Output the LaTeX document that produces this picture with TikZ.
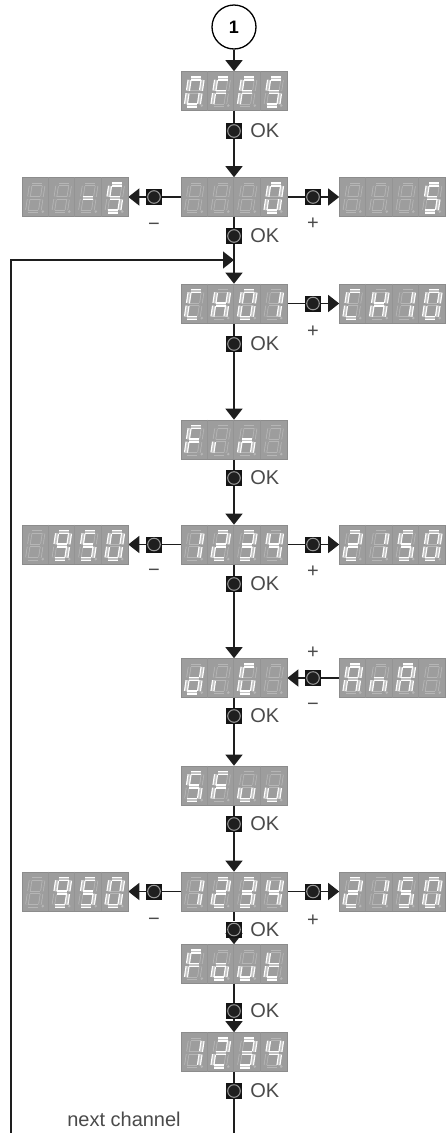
\documentclass[tikz,border=0pt]{standalone}
\usepackage{fontspec}
\setmainfont{Liberation Sans}
\usetikzlibrary{arrows.meta,backgrounds}

\definecolor{dispgray}{HTML}{9D9D9D}
\definecolor{segdim}{HTML}{B6B6B6}
\definecolor{linegray}{HTML}{1E1E1E}
\definecolor{textgray}{HTML}{4A4A4A}

\tikzset{
  disp/.style={rectangle, fill=dispgray, draw=black!45, line width=0.6pt,
    minimum width=106pt, minimum height=39pt, inner sep=0pt},
  cellsep/.style={draw=black!42, line width=0.8pt},
  btn/.style={rectangle, fill=black!92, minimum size=16pt, inner sep=0pt,
    path picture={\draw[black!40, fill=black!88, line width=1pt]
      (path picture bounding box.center) circle (6.3pt);}},
  oklbl/.style={inner sep=0pt, text=textgray, font=\fontsize{20}{20}\selectfont},
  okbtn/.style={btn, label={[oklbl, label distance=8pt]right:OK}},
  pmlbl/.style={oklbl, text height=0.64em, text depth=0pt},
  segoff/.style={draw=segdim, line width=0.8pt, double=dispgray, double distance=1.8pt},
  segon/.style={draw=white, line width=1.2pt, double=dispgray!60!white, double distance=1.7pt},
  wire/.style={draw=linegray, line width=1.3pt},
  arr/.style={wire, -{Triangle[width=17pt,length=11pt]}},
}

% one slanted seven-segment digit, #2 = lit segments
\newcommand\celldigit[2]{%
  \begin{scope}[shift={#1}, yshift=-1pt, xslant=0.15]
    \path (-5,-13.5) coordinate (a1) (5,-13.5) coordinate (a2)
          (6.5,-12) coordinate (b1) (6.5,-1.4) coordinate (b2)
          (6.5,1.4) coordinate (c1) (6.5,12) coordinate (c2)
          (-5,13.5) coordinate (d1) (5,13.5) coordinate (d2)
          (-6.5,1.4) coordinate (e1) (-6.5,12) coordinate (e2)
          (-6.5,-12) coordinate (f1) (-6.5,-1.4) coordinate (f2)
          (-5,0) coordinate (g1) (5,0) coordinate (g2);
    \foreach \s in {a,b,c,d,e,f,g} \draw[segoff] (\s1) -- (\s2);
    \fill[segdim] (9.6,13.6) circle (1.4pt);
    \def\litsegs{#2}%
    \ifx\litsegs\empty\else\foreach \s in {#2} \draw[segon] (\s1) -- (\s2);\fi
  \end{scope}}

% four digits into a display node
\newcommand\dispdigits[5]{%
  \foreach \i in {1,2,3}
    \draw[cellsep] ([xshift=26.5pt*\i]#1.north west) -- ([xshift=26.5pt*\i]#1.south west);
  \celldigit{([xshift=-39.75pt]#1.center)}{#2}
  \celldigit{([xshift=-13.25pt]#1.center)}{#3}
  \celldigit{([xshift=13.25pt]#1.center)}{#4}
  \celldigit{([xshift=39.75pt]#1.center)}{#5}}

\begin{document}
\begin{tikzpicture}[x=1pt, y=-1pt]
  \useasboundingbox (0,0) rectangle (446,1133);

  \node[circle, draw, line width=1.3pt, minimum size=44pt, font=\fontsize{18}{18}\selectfont\bfseries] (start) at (234,27) {1};
  \node[disp] (offs) [below of=start, node distance=64pt] {};
  \node[okbtn] (okA) [below of=offs, node distance=40pt] {};
  \node[disp] (zero) [below of=okA, node distance=66pt] {};
  \node[disp] (zeroL) [left of=zero, node distance=159pt] {};
  \node[disp] (zeroR) [right of=zero, node distance=158.5pt] {};
  \node[btn] (mA) [left of=zero, node distance=80pt] {};
  \node[btn] (pA) [right of=zero, node distance=79pt] {};
  \node[pmlbl] (mAl) [below of=mA, node distance=30pt] {−};
  \node[pmlbl] (pAl) [below of=pA, node distance=29pt] {+};
  \node[okbtn] (okB) [below of=zero, node distance=39pt] {};
  \node[coordinate] (join) [below of=okB, node distance=24pt] {};
  \node[disp] (ch) [below of=okB, node distance=67.5pt] {};
  \node[disp] (chR) [right of=ch, node distance=158.5pt] {};
  \node[btn] (pB) [right of=ch, node distance=79pt] {};
  \node[pmlbl] (pBl) [below of=pB, node distance=31pt] {+};
  \node[okbtn] (okC) [below of=ch, node distance=40.5pt] {};
  \node[disp] (fin) [below of=okC, node distance=95.5pt] {};
  \node[okbtn] (okD) [below of=fin, node distance=38.5pt] {};
  \node[disp] (val) [below of=okD, node distance=66.5pt] {};
  \node[disp] (valL) [left of=val, node distance=159pt] {};
  \node[disp] (valR) [right of=val, node distance=158.5pt] {};
  \node[btn] (mC) [left of=val, node distance=80pt] {};
  \node[btn] (pC) [right of=val, node distance=79pt] {};
  \node[pmlbl] (mCl) [below of=mC, node distance=29pt] {−};
  \node[pmlbl] (pCl) [below of=pC, node distance=30pt] {+};
  \node[okbtn] (okE) [below of=val, node distance=39.5pt] {};
  \node[disp] (dig) [below of=okE, node distance=94pt] {};
  \node[disp] (ana) [right of=dig, node distance=158.5pt] {};
  \node[btn] (pD) [right of=dig, node distance=79pt] {};
  \node[pmlbl] (pDl) [above of=pD, node distance=22.5pt] {+};
  \node[pmlbl] (mDl) [below of=pD, node distance=29pt] {−};
  \node[okbtn] (okF) [below of=dig, node distance=38pt] {};
  \node[disp] (sfu) [below of=okF, node distance=69.5pt] {};
  \node[okbtn] (okG) [below of=sfu, node distance=38.5pt] {};
  \node[disp] (valb) [below of=okG, node distance=67.5pt] {};
  \node[disp] (valbL) [left of=valb, node distance=159pt] {};
  \node[disp] (valbR) [right of=valb, node distance=158.5pt] {};
  \node[btn] (mE) [left of=valb, node distance=80pt] {};
  \node[btn] (pE) [right of=valb, node distance=79pt] {};
  \node[pmlbl] (mEl) [below of=mE, node distance=30.5pt] {−};
  \node[pmlbl] (pEl) [below of=pE, node distance=31.5pt] {+};
  \node[okbtn] (okH) [below of=valb, node distance=38pt] {};
  \node[disp] (fout) [below of=okH, node distance=34.5pt] {};
  \node[okbtn] (okI) [below of=fout, node distance=47pt] {};
  \node[disp] (res) [below of=okI, node distance=41pt] {};
  \node[okbtn] (okJ) [below of=res, node distance=39pt] {};
  \node[coordinate] (chanEnd) [below of=okJ, node distance=42pt] {};
  \node[coordinate] (loopEnd) [left of=chanEnd, node distance=223pt] {};
  \node[oklbl] (nextch) at (124,1119.5) {next channel};

  \dispdigits{offs}{a,b,c,d,e,f}{a,e,f,g}{a,e,f,g}{a,f,g,c,d}
  \dispdigits{zero}{}{}{}{a,b,c,d,e,f}
  \dispdigits{zeroL}{}{}{g}{a,f,g,c,d}
  \dispdigits{zeroR}{}{}{}{a,f,g,c,d}
  \dispdigits{ch}{a,d,e,f}{b,c,e,f,g}{a,b,c,d,e,f}{b,c}
  \dispdigits{chR}{a,d,e,f}{b,c,e,f,g}{b,c}{a,b,c,d,e,f}
  \dispdigits{fin}{a,e,f,g}{e}{c,e,g}{}
  \foreach \v in {val,valb,res}
    \dispdigits{\v}{b,c}{a,b,g,e,d}{a,b,g,c,d}{f,g,b,c};
  \foreach \v in {valL,valbL}
    \dispdigits{\v}{}{a,b,c,d,f,g}{a,f,g,c,d}{a,b,c,d,e,f};
  \foreach \v in {valR,valbR}
    \dispdigits{\v}{a,b,g,e,d}{b,c}{a,f,g,c,d}{a,b,c,d,e,f};
  \dispdigits{dig}{b,c,d,e,g}{e}{a,c,d,e,f}{}
  \dispdigits{ana}{a,b,c,e,f,g}{c,e,g}{a,b,c,e,f,g}{}
  \dispdigits{sfu}{a,f,g,c,d}{a,e,f,g}{c,d,e}{c,d,e}
  \dispdigits{fout}{a,e,f,g}{c,d,e,g}{c,d,e}{d,e,f,g}

  \begin{scope}[on background layer]
    \path (start) edge[arr] (offs)
          (offs) edge[wire] (okA)  (okA) edge[arr] (zero)
          (zero) edge[wire] (mA)   (mA) edge[arr] (zeroL)
          (zero) edge[wire] (pA)   (pA) edge[arr] (zeroR)
          (zero) edge[wire] (okB)  (okB) edge[arr] (ch)
          (ch) edge[wire] (pB)     (pB) edge[arr] (chR)
          (ch) edge[wire] (okC)    (okC) edge[arr] (fin)
          (fin) edge[wire] (okD)   (okD) edge[arr] (val)
          (val) edge[wire] (mC)    (mC) edge[arr] (valL)
          (val) edge[wire] (pC)    (pC) edge[arr] (valR)
          (val) edge[wire] (okE)   (okE) edge[arr] (dig)
          (ana) edge[wire] (pD)    (pD) edge[arr] (dig)
          (dig) edge[wire] (okF)   (okF) edge[arr] (sfu)
          (sfu) edge[wire] (okG)   (okG) edge[arr] (valb)
          (valb) edge[wire] (mE)   (mE) edge[arr] (valbL)
          (valb) edge[wire] (pE)   (pE) edge[arr] (valbR)
          (valb) edge[wire] (okH)  (okH) edge[arr] (fout)
          (fout) edge[wire] (okI)  (okI) edge[arr] (res)
          (res) edge[wire] (okJ)   (okJ) edge[wire] (chanEnd);
    \draw[arr] (loopEnd) |- (join);
  \end{scope}
\end{tikzpicture}
\end{document}
